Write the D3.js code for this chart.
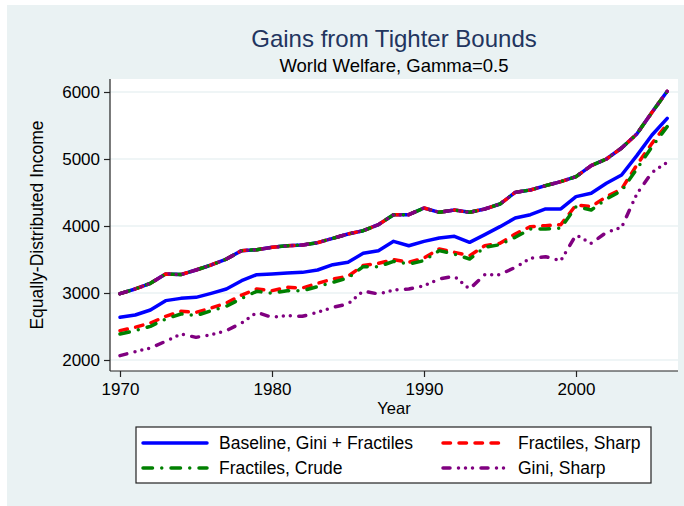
<!DOCTYPE html>
<html lang="en">
<head>
    <meta charset="UTF-8">
    <title>Gains from Tighter Bounds</title>
    <script src="https://d3js.org/d3.v7.min.js"></script>
    <style>
        body { margin: 0; background: #fff; }
        svg text { font-family: 'Liberation Sans', Arial, sans-serif; fill: #000; }
    </style>
</head>
<body>
    <svg width="684" height="506"></svg>
    <script>
        // years 1970..2006
        const years = d3.range(1970, 2007);

        // upper bound, shared by all four methods
        const upperBound = [2990, 3060, 3145, 3284, 3275, 3343, 3418, 3507, 3632, 3647,
            3682, 3706, 3716, 3751, 3816, 3881, 3930, 4020, 4169, 4169,
            4269, 4204, 4239, 4204, 4254, 4328, 4502, 4537, 4602, 4662,
            4736, 4900, 5000, 5164, 5373, 5697, 6010];

        // lower bounds
        const baseline = [2637, 2672, 2746, 2886, 2920, 2935, 2995, 3060, 3184, 3274,
            3284, 3299, 3308, 3343, 3423, 3458, 3592, 3632, 3771, 3706,
            3771, 3821, 3846, 3756, 3871, 3990, 4119, 4169, 4254, 4254,
            4438, 4488, 4637, 4761, 5050, 5358, 5607];
        const fracSharp = [2438, 2488, 2552, 2652, 2726, 2711, 2776, 2851, 2970, 3060,
            3035, 3085, 3075, 3144, 3209, 3250, 3410, 3443, 3498, 3458,
            3522, 3657, 3607, 3557, 3706, 3741, 3881, 3990, 4005, 4020,
            4313, 4289, 4438, 4552, 4910, 5234, 5522];
        const fracCrude = [2388, 2438, 2502, 2612, 2687, 2662, 2736, 2801, 2920, 3025,
            2995, 3035, 3035, 3095, 3159, 3225, 3393, 3393, 3473, 3433,
            3483, 3632, 3582, 3507, 3682, 3721, 3831, 3955, 3955, 3970,
            4289, 4239, 4403, 4527, 4851, 5184, 5483];
        const giniSharp = [2065, 2124, 2179, 2279, 2388, 2338, 2378, 2438, 2552, 2711,
            2637, 2662, 2652, 2711, 2786, 2836, 3030, 2985, 3045, 3060,
            3109, 3209, 3249, 3060, 3274, 3274, 3383, 3517, 3542, 3483,
            3866, 3741, 3905, 3980, 4478, 4801, 4950];

        const yTicks = [2000, 3000, 4000, 5000, 6000];
        const xTicks = [1970, 1980, 1990, 2000];

        // round caps everywhere, so the dash lengths are shorter than they look
        const series = [
            { name: "Baseline, Gini + Fractiles", lower: baseline, color: "#0000ff", dash: null },
            { name: "Fractiles, Sharp", lower: fracSharp, color: "#ff0000", dash: "7.5,8.5" },
            { name: "Fractiles, Crude", lower: fracCrude, color: "#008000", dash: "9.5,9.25,0,9.25" },
            { name: "Gini, Sharp", lower: giniSharp, color: "#800080", dash: "7,8.5,0,7,0,7,0,8.5" }
        ];

        const svg = d3.select("svg");
        const W = 684, H = 506;
        const bg = "#eaf2f3";

        // outer background
        svg.append("rect").attr("x", 7).attr("y", 5).attr("width", W - 7).attr("height", H - 5)
            .attr("fill", bg);

        const plot = { left: 110, right: 678, top: 79, bottom: 371 };

        const x = d3.scaleLinear().domain([1970, 2000]).range([120, 576]);
        const y = d3.scaleLinear().domain([2000, 6000]).range([360, 92]);

        // plot region
        svg.append("rect")
            .attr("x", plot.left).attr("y", plot.top)
            .attr("width", plot.right - plot.left).attr("height", plot.bottom - plot.top)
            .attr("fill", "#fff");

        // gridlines
        svg.append("g").selectAll("line").data(yTicks).join("line")
            .attr("x1", plot.left).attr("x2", plot.right)
            .attr("y1", d => y(d)).attr("y2", d => y(d))
            .attr("stroke", bg).attr("stroke-width", 1.5);

        // axes
        const yAxis = svg.append("g").attr("transform", `translate(${plot.left},0)`)
            .call(d3.axisLeft(y).tickValues(yTicks).tickSize(6).tickPadding(4).tickFormat(d3.format("d")));
        yAxis.select(".domain").attr("d", `M0,${plot.top}V${plot.bottom}`);

        const xAxis = svg.append("g").attr("transform", `translate(0,${plot.bottom})`)
            .call(d3.axisBottom(x).tickValues(xTicks).tickSize(6).tickPadding(6).tickFormat(d3.format("d")));
        xAxis.select(".domain").attr("d", `M${plot.left},0H${plot.right}`);

        svg.selectAll(".tick text").attr("font-size", 17).attr("font-family", "'Liberation Sans', Arial, sans-serif");
        svg.selectAll(".domain, .tick line").attr("stroke", "#222").attr("stroke-width", 1.2);

        // lines: lower bounds first, then the common upper bound once per style
        const line = arr => d3.line().x((d, i) => x(years[i])).y(d => y(d))(arr);
        const lines = svg.append("g");
        const drawLine = (arr, s) => lines.append("path").attr("d", line(arr))
            .attr("fill", "none").attr("stroke", s.color).attr("stroke-width", 3.5)
            .attr("stroke-dasharray", s.dash).attr("stroke-linecap", "round")
            .attr("stroke-linejoin", "round");
        series.forEach(s => drawLine(s.lower, s));
        series.forEach(s => drawLine(upperBound, s));

        // titles
        svg.append("text").attr("x", 394).attr("y", 47).attr("text-anchor", "middle")
            .attr("font-size", 24).style("fill", "#22355f").text("Gains from Tighter Bounds");
        svg.append("text").attr("x", 394).attr("y", 72).attr("text-anchor", "middle")
            .attr("font-size", 18.5).text("World Welfare, Gamma=0.5");
        svg.append("text").attr("x", 394).attr("y", 414).attr("text-anchor", "middle")
            .attr("font-size", 16.5).text("Year");
        svg.append("text").attr("transform", "translate(43,225) rotate(-90)").attr("text-anchor", "middle")
            .attr("font-size", 17.5).text("Equally-Distributed Income");

        // legend
        const lg = svg.append("g");
        lg.append("rect").attr("x", 136).attr("y", 427).attr("width", 515).attr("height", 56)
            .attr("fill", "#fff").attr("stroke", "#222").attr("stroke-width", 1.2);
        const slots = [
            { sx: 143, tx: 219, ty: 443 },
            { sx: 443, tx: 518, ty: 443 },
            { sx: 143, tx: 219, ty: 468 },
            { sx: 443, tx: 518, ty: 468 }
        ];
        series.forEach((s, j) => {
            const p = slots[j];
            lg.append("line").attr("x1", p.sx).attr("x2", p.sx + 64)
                .attr("y1", p.ty).attr("y2", p.ty)
                .attr("stroke", s.color).attr("stroke-width", 3.5)
                .attr("stroke-dasharray", s.dash).attr("stroke-linecap", "round");
            lg.append("text").attr("x", p.tx).attr("y", p.ty).attr("dy", "0.35em")
                .attr("font-size", 17.5).text(s.name);
        });
    </script>
</body>
</html>
